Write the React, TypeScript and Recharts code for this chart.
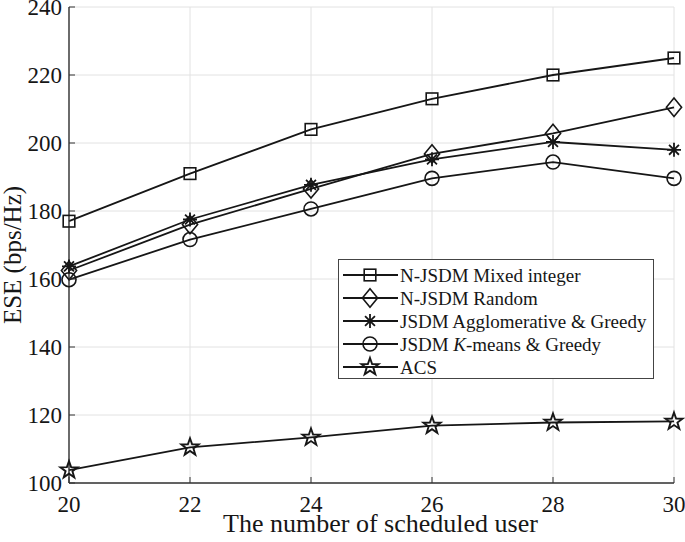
import React from "react";
import { LineChart, Line, XAxis, YAxis, CartesianGrid, Legend, Label } from "recharts";

// x axis: number of scheduled users
const users = [20, 22, 24, 26, 28, 30];

// ESE (bps/Hz) per scheme
const mixedInteger = [177, 191, 204, 213, 220, 225];
const njsdmRandom = [162.5, 176, 186.5, 196.8, 202.8, 210.5];
const agglomerative = [163.7, 177.5, 187.7, 195.2, 200.3, 198];
const kMeans = [159.8, 171.6, 180.6, 189.6, 194.4, 189.6];
const acs = [103.8, 110.5, 113.4, 116.9, 117.8, 118.1];

const xTicks = [20, 22, 24, 26, 28, 30];
const yTicks = [100, 120, 140, 160, 180, 200, 220, 240];

const FONT = "'Liberation Serif', 'Times New Roman', serif";
const INK = "#161616";
const FRAME = "#333";
const GRID = "#e2e2e2";
const TICK_LEN = 6;
const X_TICK_MARGIN = 13;
const Y_TICK_MARGIN = 7;

type Shape = "square" | "diamond" | "asterisk" | "circle" | "star";

const series: { key: string; shape: Shape; label: React.ReactNode }[] = [
  { key: "mixed", shape: "square", label: "N-JSDM Mixed integer" },
  { key: "random", shape: "diamond", label: "N-JSDM Random" },
  { key: "agglo", shape: "asterisk", label: "JSDM Agglomerative & Greedy" },
  {
    key: "kmeans",
    shape: "circle",
    label: (
      <>
        JSDM <tspan fontStyle="italic">K</tspan>-means &amp; Greedy
      </>
    ),
  },
  { key: "acs", shape: "star", label: "ACS" },
];

const data = users.map((u, i) => ({
  users: u,
  mixed: mixedInteger[i],
  random: njsdmRandom[i],
  agglo: agglomerative[i],
  kmeans: kMeans[i],
  acs: acs[i],
}));

function starPath(cx: number, cy: number, ro: number, ri: number) {
  const pts: string[] = [];
  for (let k = 0; k < 10; k++) {
    const r = k % 2 === 0 ? ro : ri;
    const a = -Math.PI / 2 + (k * Math.PI) / 5;
    pts.push(`${cx + r * Math.cos(a)},${cy + r * Math.sin(a)}`);
  }
  return `M${pts.join("L")}Z`;
}

function Marker({ shape, cx, cy }: { shape: Shape; cx: number; cy: number }) {
  const common = { fill: "none", stroke: INK, strokeWidth: 1.6 };
  switch (shape) {
    case "square":
      return <rect x={cx - 5.8} y={cy - 5.8} width={11.6} height={11.6} {...common} />;
    case "diamond":
      return (
        <path
          d={`M${cx},${cy - 9.2}L${cx + 7.6},${cy}L${cx},${cy + 9.2}L${cx - 7.6},${cy}Z`}
          {...common}
        />
      );
    case "asterisk": {
      const r = 7;
      const d = r * Math.SQRT1_2;
      return (
        <path
          d={`M${cx},${cy - r}V${cy + r}M${cx - r},${cy}H${cx + r}M${cx - d},${cy - d}L${cx + d},${cy + d}M${cx - d},${cy + d}L${cx + d},${cy - d}`}
          {...common}
          strokeWidth={1.8}
        />
      );
    }
    case "circle":
      return <circle cx={cx} cy={cy} r={7} {...common} />;
    case "star":
      return <path d={starPath(cx, cy, 9, 3.6)} {...common} strokeWidth={1.9} />;
  }
}

const BottomTick = (props: any) => {
  const { x, y, payload } = props;
  const axisY = y - X_TICK_MARGIN;
  return (
    <g>
      <line x1={x} y1={axisY} x2={x} y2={axisY - TICK_LEN} stroke={FRAME} strokeWidth={1} />
      <text x={x} y={y} dy="0.71em" textAnchor="middle" fontFamily={FONT} fontSize={23} fill={INK}>
        {payload.value}
      </text>
    </g>
  );
};

const LeftTick = (props: any) => {
  const { x, y, payload } = props;
  const axisX = x + Y_TICK_MARGIN;
  return (
    <g>
      <line x1={axisX} y1={y} x2={axisX + TICK_LEN} y2={y} stroke={FRAME} strokeWidth={1} />
      <text x={x} y={y} dy="0.35em" textAnchor="end" fontFamily={FONT} fontSize={23} fill={INK}>
        {payload.value}
      </text>
    </g>
  );
};

const TopTick = (props: any) => {
  const { x, y } = props;
  return <line x1={x} y1={y} x2={x} y2={y + TICK_LEN} stroke={FRAME} strokeWidth={1} />;
};

const RightTick = (props: any) => {
  const { x, y } = props;
  return <line x1={x} y1={y} x2={x - TICK_LEN} y2={y} stroke={FRAME} strokeWidth={1} />;
};

const renderLegend = () => (
  <svg width={316} height={120} style={{ display: "block" }}>
    <rect x={0.5} y={0.5} width={315} height={119} fill="#fff" stroke="#444" strokeWidth={1} />
    {series.map((s, i) => {
      const cy = 16 + i * 23;
      return (
        <g key={s.key}>
          <line x1={5} y1={cy} x2={60} y2={cy} stroke={INK} strokeWidth={1.8} />
          <Marker shape={s.shape} cx={32} cy={cy} />
          <text x={62} y={cy} dy="0.35em" fontFamily={FONT} fontSize={19} fill={INK}>
            {s.label}
          </text>
        </g>
      );
    })}
  </svg>
);

export default function App() {
  return (
    <div style={{ position: "absolute", left: 0, top: 0, background: "#fff" }}>
      <LineChart
        width={685}
        height={542}
        data={data}
        margin={{ top: 7, right: 11, bottom: 0, left: 0 }}
      >
        <CartesianGrid stroke={GRID} strokeWidth={1} />
        <XAxis
          dataKey="users"
          type="number"
          domain={[20, 30]}
          ticks={xTicks}
          interval={0}
          height={59}
          tickSize={0}
          tickMargin={X_TICK_MARGIN}
          tick={BottomTick}
          axisLine={{ stroke: FRAME, strokeWidth: 1.4 }}
        >
          <Label
            content={({ viewBox }: any) => (
              <text
                x={viewBox.x + viewBox.width / 2 + 9}
                y={viewBox.y + 49}
                textAnchor="middle"
                fontFamily={FONT}
                fontSize={26}
                fill={INK}
              >
                The number of scheduled user
              </text>
            )}
          />
        </XAxis>
        <XAxis
          xAxisId="top"
          orientation="top"
          dataKey="users"
          type="number"
          domain={[20, 30]}
          ticks={xTicks}
          interval={0}
          height={0}
          tickSize={0}
          tickMargin={0}
          tick={TopTick}
          axisLine={{ stroke: FRAME, strokeWidth: 1.4 }}
        />
        <YAxis
          type="number"
          domain={[100, 240]}
          ticks={yTicks}
          interval={0}
          width={69}
          tickSize={0}
          tickMargin={Y_TICK_MARGIN}
          tick={LeftTick}
          axisLine={{ stroke: FRAME, strokeWidth: 1.4 }}
        >
          <Label
            content={({ viewBox }: any) => {
              const x = viewBox.x + 21;
              const y = viewBox.y + viewBox.height / 2 + 10;
              return (
                <text
                  x={x}
                  y={y}
                  transform={`rotate(-90, ${x}, ${y})`}
                  textAnchor="middle"
                  fontFamily={FONT}
                  fontSize={25}
                  fill={INK}
                >
                  ESE (bps/Hz)
                </text>
              );
            }}
          />
        </YAxis>
        <YAxis
          yAxisId="right"
          orientation="right"
          type="number"
          domain={[100, 240]}
          ticks={yTicks}
          interval={0}
          width={0}
          tickSize={0}
          tickMargin={0}
          tick={RightTick}
          axisLine={{ stroke: FRAME, strokeWidth: 1.4 }}
        />
        <Legend
          layout="horizontal"
          verticalAlign="middle"
          align="center"
          content={renderLegend}
          wrapperStyle={{ left: 338, top: 259, width: 316, height: 120 }}
        />
        {series.map((s) => (
          <Line
            key={s.key}
            dataKey={s.key}
            type="linear"
            stroke={INK}
            strokeWidth={1.8}
            isAnimationActive={false}
            activeDot={false}
            dot={(p: any) => (
              <Marker key={`${s.key}-${p.index}`} shape={s.shape} cx={p.cx} cy={p.cy} />
            )}
          />
        ))}
      </LineChart>
    </div>
  );
}
